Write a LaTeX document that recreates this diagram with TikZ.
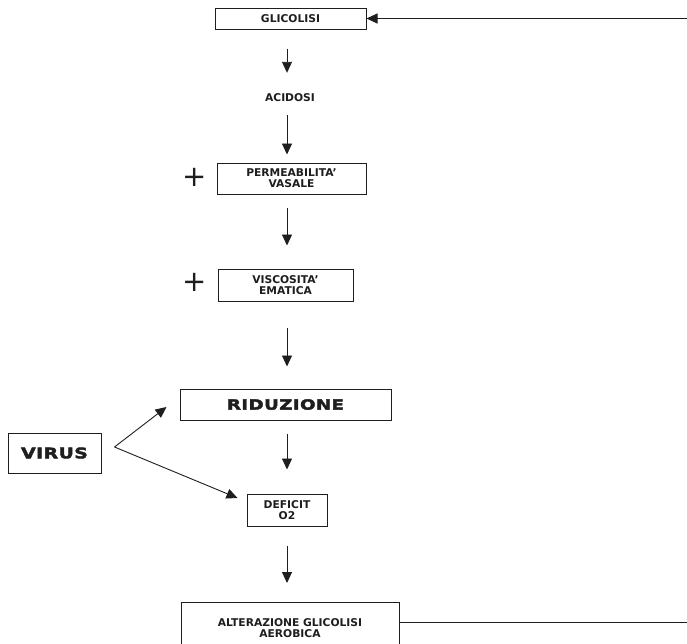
\documentclass[tikz,border=0pt]{standalone}
\usepackage{fontspec}
\setmainfont{DejaVu Sans}
\newfontfamily\heavy{DejaVu Sans Bold}[FakeBold=3,FakeStretch=1.3,LetterSpace=3]
\usetikzlibrary{arrows.meta,calc}

\definecolor{ink}{HTML}{1E1E1E}

\tikzset{
  lbl/.style={font=\bfseries\fontsize{10.7}{11}\selectfont, text=ink, align=center, inner sep=0pt},
  box/.style={lbl, draw=ink, line width=1pt, rectangle},
  bigbox/.style={box, font=\heavy\fontsize{14}{14}\selectfont},
  arr/.style={draw=ink, line width=0.9pt, -{Triangle[length=11pt,width=10pt]}},
  link/.style={draw=ink, line width=0.9pt},
  incmark/.style={text=ink, inner sep=0pt, font=\mdseries\fontsize{29}{29}\selectfont}
}

\begin{document}
\begin{tikzpicture}[x=1pt,y=-1pt]
\useasboundingbox (0,0) rectangle (687,643);

% vertical spine of the chain
\coordinate (spine) at (287,0);

% chain of boxes
\node[box, minimum width=151pt, minimum height=21pt] (glic) at (290.5,18.5) {GLICOLISI};
\node[lbl, minimum height=14pt] (acid) at (290,98) {ACIDOSI};
\node[box, minimum width=149pt, minimum height=31pt] (perm) at (291.5,178.5) {PERMEABILITA'\\VASALE};
\node[box, minimum width=135pt, minimum height=32pt] (visc) at (285.5,285) {VISCOSITA'\\EMATICA};
\node[bigbox, minimum width=211pt, minimum height=31pt] (rid) at (285.5,404.5) {RIDUZIONE};
\node[bigbox, font=\heavy\fontsize{14.5}{15}\selectfont, minimum width=93pt, minimum height=40pt] (virus) at (54.5,453) {VIRUS};
\node[box, minimum width=80pt, minimum height=32pt] (def) at (287,510) {DEFICIT\\O2};
\node[box, minimum width=218pt, minimum height=52pt, anchor=north] (alt) at (290,602) {ALTERAZIONE GLICOLISI\\AEROBICA};

% increase markers
\node[incmark] (p1) at (195,177) {+};
\node[incmark] (p2) at (195,282) {+};

% downward arrows
\draw[arr, shorten <=19pt, shorten >=18pt] (glic.south -| spine) -- (acid.north -| spine);
\draw[arr, shorten <=10pt, shorten >=8pt]  (acid.south -| spine) -- (perm.north -| spine);
\draw[arr, shorten <=13pt, shorten >=23pt] (perm.south -| spine) -- (visc.north -| spine);
\draw[arr, shorten <=26pt, shorten >=22pt] (visc.south -| spine) -- (rid.north -| spine);
\draw[arr, shorten <=13pt, shorten >=24pt] (rid.south -| spine) -- (def.north -| spine);
\draw[arr, shorten <=19pt, shorten >=19pt] (def.south -| spine) -- (alt.north -| spine);

% virus branches
\coordinate (vx) at ([xshift=13pt,yshift=6pt]virus.east);
\draw[arr] (vx) -- ([xshift=-13pt,yshift=-2.5pt]rid.west);
\draw[arr] (vx) -- ([xshift=-9pt,yshift=12pt]def.west);

% feedback lines along the right edge
\coordinate (rtop) at (687,18.5);
\coordinate (rbot) at (687,622);
\draw[arr] (rtop) -- (glic.east);
\draw[link] (alt.east |- rbot) -- (rbot);
\end{tikzpicture}
\end{document}
